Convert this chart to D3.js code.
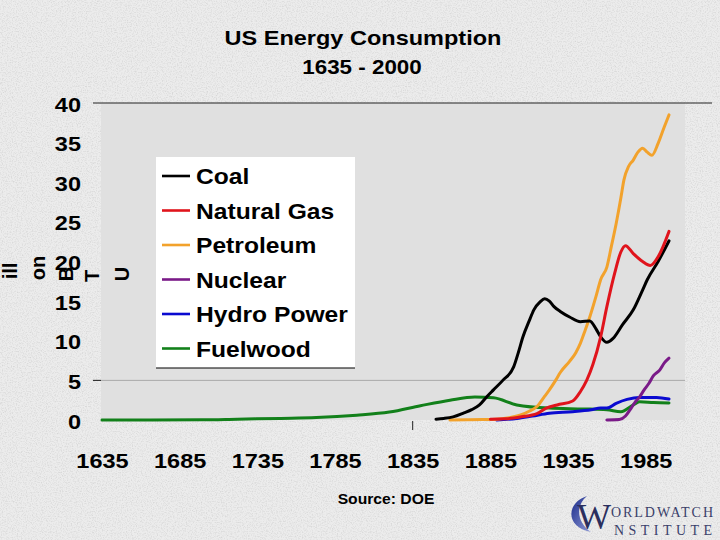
<!DOCTYPE html>
<html><head><meta charset="utf-8">
<script src="https://cdn.jsdelivr.net/npm/d3@7"></script>
<style>
body{margin:0;background:#e8e8e8;}
svg{display:block;}
</style>
</head><body>
<svg id="c" width="720" height="540"></svg>
<script>
// ---------- data ----------
const xTicks = [1635, 1685, 1735, 1785, 1835, 1885, 1935, 1985];
const yTicks = [0, 5, 10, 15, 20, 25, 30, 35, 40];
const seriesNames = ["Coal", "Natural Gas", "Petroleum", "Nuclear", "Hydro Power", "Fuelwood"];
const seriesColors = ["#000000", "#e0141c", "#f2a22c", "#7a1a88", "#0a0ad0", "#12801a"];

const coal = [[1850,0.1],[1855,0.2],[1861,0.4],[1868,0.9],[1873,1.3],[1878,1.9],[1883,3.0],[1887,3.8],[1893,5.0],[1900,6.7],[1903,8.5],[1906,10.5],[1910,12.5],[1913,13.9],[1917,14.9],[1920,15.3],[1923,15.0],[1926,14.3],[1930,13.7],[1936,13.0],[1943,12.4],[1949,12.5],[1953,11.5],[1956,10.5],[1960,9.8],[1964,10.3],[1970,12.0],[1977,13.9],[1983,16.4],[1986,17.7],[1993,20.0],[2000,22.6]];
const naturalGas = [[1885,0.1],[1895,0.15],[1905,0.4],[1915,0.8],[1921,1.5],[1928,1.9],[1938,2.4],[1943,3.6],[1947,5.0],[1951,7.0],[1956,10.5],[1960,14.3],[1965,18.5],[1969,21.2],[1972,22.0],[1977,21.0],[1983,20.0],[1988,19.5],[1993,20.6],[2000,23.8]];
const petroleum = [[1859,0],[1870,0.02],[1880,0.05],[1889,0.1],[1897,0.3],[1904,0.6],[1910,1.1],[1915,1.7],[1920,3.0],[1923,3.8],[1927,5.0],[1930,6.0],[1936,7.4],[1940,8.5],[1943,9.7],[1946,11.3],[1949,13.0],[1953,15.6],[1956,17.7],[1960,19.3],[1963,22.0],[1966,24.8],[1969,28.0],[1971,30.3],[1974,32.0],[1977,32.8],[1980,33.8],[1983,34.3],[1986,33.8],[1989,33.4],[1993,34.9],[1997,37.0],[2000,38.5]];
const nuclear = [[1960,0],[1968,0.05],[1972,0.5],[1975,1.3],[1978,2.2],[1981,2.9],[1984,3.8],[1987,4.6],[1990,5.6],[1994,6.3],[1997,7.2],[2000,7.8]];
const hydroPower = [[1889,0],[1902,0.2],[1912,0.5],[1923,0.85],[1938,1.05],[1950,1.3],[1956,1.5],[1960,1.5],[1966,2.1],[1973,2.6],[1981,2.85],[1992,2.85],[2000,2.65]];
const fuelwood = [[1635,0],[1700,0.02],[1722,0.1],[1750,0.2],[1773,0.3],[1799,0.6],[1820,1.0],[1840,1.8],[1859,2.5],[1875,2.9],[1887,2.8],[1902,1.9],[1923,1.5],[1945,1.4],[1960,1.3],[1969,1.05],[1977,1.9],[1981,2.3],[1990,2.2],[2000,2.15]];

const yTitleParts = ["ill", "on", "B", "T", "U"];
const titleLines = ["US Energy Consumption", "1635 - 2000"];
const sourceText = "Source:  DOE";

// ---------- drawing ----------
const SX = 1.12;
const FONT = "'Liberation Sans', Arial, Helvetica, sans-serif";
const SERIF = "'Liberation Serif', 'DejaVu Serif', serif";
const svg = d3.select("#c");

// textured background
const defs = svg.append("defs");
const f = defs.append("filter").attr("id","noise").attr("x",0).attr("y",0).attr("width","100%").attr("height","100%");
f.append("feTurbulence").attr("type","fractalNoise").attr("baseFrequency",0.8).attr("numOctaves",2).attr("seed",3).attr("result","t");
f.append("feColorMatrix").attr("in","t").attr("type","matrix")
  .attr("values","0 0 0 0 0.5  0 0 0 0 0.5  0 0 0 0 0.5  0 0 0 -2.2 1.25");
svg.append("rect").attr("width",720).attr("height",540).attr("fill","#ececec");
svg.append("rect").attr("width",720).attr("height",540).attr("filter","url(#noise)").attr("opacity",0.45);

const x = d3.scaleLinear().domain([1635, 2000]).range([102, 669]);
const y = d3.scaleLinear().domain([0, 40]).range([420, 103]);

// plot area
svg.append("rect").attr("x",101).attr("y",y(40)).attr("width",685-101).attr("height",y(0)-y(40)).attr("fill","#e0e0e0");

// gridlines / ticks
svg.append("line").attr("x1",93).attr("x2",712).attr("y1",y(40)).attr("y2",y(40)).attr("stroke","#222").attr("stroke-width",1);
svg.append("line").attr("x1",93).attr("x2",685).attr("y1",y(5)).attr("y2",y(5)).attr("stroke","#a9a9a9").attr("stroke-width",1);
svg.append("line").attr("x1",93).attr("x2",101).attr("y1",y(5)).attr("y2",y(5)).attr("stroke","#222").attr("stroke-width",1);
svg.append("line").attr("x1",x(1835)).attr("x2",x(1835)).attr("y1",421).attr("y2",430).attr("stroke","#222").attr("stroke-width",1);

function txt(g, px, py, s, size, anchor, opts = {}) {
  return g.append("text")
    .attr("transform", `translate(${px},${py}) scale(${opts.sx || SX},1)`)
    .attr("text-anchor", anchor)
    .attr("font-family", opts.family || FONT)
    .attr("font-weight", opts.weight || "bold")
    .attr("font-size", size)
    .attr("fill", opts.fill || "#000")
    .text(s);
}

// axes
const gx = svg.append("g").attr("transform", `translate(0,${y(0)})`)
  .call(d3.axisBottom(x).tickValues(xTicks).tickFormat(d3.format("d")).tickSize(0));
gx.select(".domain").remove();
gx.selectAll("text").attr("y", 48).attr("dy", null)
  .attr("font-family", FONT).attr("font-weight","bold").attr("font-size", 21).attr("fill","#000")
  .attr("transform", `scale(${SX},1)`);

const gy = svg.append("g").attr("transform", "translate(81,0)")
  .call(d3.axisLeft(y).tickValues(yTicks).tickSize(0).tickPadding(0));
gy.select(".domain").remove();
gy.selectAll("text").attr("x", 0).attr("y", 8).attr("dy", null)
  .attr("font-family", FONT).attr("font-weight","bold").attr("font-size", 21).attr("fill","#000")
  .attr("transform", `scale(${SX},1)`);

// broken y-axis title pieces
const yTitlePos = [[10,271],[38,268],[66,274],[92,276],[122,274]];
yTitleParts.forEach((p, i) => {
  svg.append("text")
    .attr("transform", `translate(${yTitlePos[i][0]},${yTitlePos[i][1]}) rotate(-90)`)
    .attr("text-anchor","middle").attr("dominant-baseline","central")
    .attr("font-family", FONT).attr("font-weight","bold").attr("font-size", 20)
    .text(p);
});

// lines
const line = d3.line().x(d => x(d[0])).y(d => y(d[1])).curve(d3.curveMonotoneX);
const drawOrder = [
  [fuelwood, 5], [hydroPower, 4], [nuclear, 3], [petroleum, 2], [coal, 0], [naturalGas, 1]
];
drawOrder.forEach(([data, ci]) => {
  svg.append("path").attr("d", line(data)).attr("fill","none")
    .attr("stroke", seriesColors[ci]).attr("stroke-width", 3)
    .attr("stroke-linejoin","round").attr("stroke-linecap","round");
});

// legend
const lg = svg.append("g");
lg.append("rect").attr("x",156).attr("y",157).attr("width",199).attr("height",211).attr("fill","#fff");
lg.append("line").attr("x1",156).attr("x2",355).attr("y1",368).attr("y2",368).attr("stroke","#000").attr("stroke-width",1.2);
seriesNames.forEach((n, i) => {
  const by = 184 + i * 34.5;
  lg.append("line").attr("x1",162).attr("x2",190).attr("y1",by-8).attr("y2",by-8)
    .attr("stroke", seriesColors[i]).attr("stroke-width", 2.6);
  txt(lg, 196, by, n, 22, "start");
});

// title
txt(svg, 363, 45, titleLines[0], 21, "middle");
txt(svg, 362, 74, titleLines[1], 20, "middle");

// source
txt(svg, 386, 504, sourceText, 14, "middle");

// logo
const logo = svg.append("g");
const grad = defs.append("linearGradient").attr("id","moon").attr("x1",0).attr("y1",0).attr("x2",1).attr("y2",1);
grad.append("stop").attr("offset","0%").attr("stop-color","#1a2a8a");
grad.append("stop").attr("offset","100%").attr("stop-color","#8e9ad6");
logo.append("path").attr("d","M587,496 C566,503 565,527 591,532 C577,523 575,506 587,496 Z").attr("fill","url(#moon)");
logo.append("text").attr("x",577).attr("y",529).attr("font-family",SERIF).attr("font-size",36).attr("fill","#2b2f5e").text("W");
logo.append("text").attr("x",611).attr("y",517).attr("font-family",SERIF).attr("font-size",14)
  .attr("fill","#3a3f6a").attr("textLength",102).attr("lengthAdjust","spacing").text("ORLDWATCH");
logo.append("text").attr("x",614).attr("y",535).attr("font-family",SERIF).attr("font-size",14)
  .attr("fill","#3a3f6a").attr("textLength",98).attr("lengthAdjust","spacing").text("NSTITUTE");
</script>
</body></html>
